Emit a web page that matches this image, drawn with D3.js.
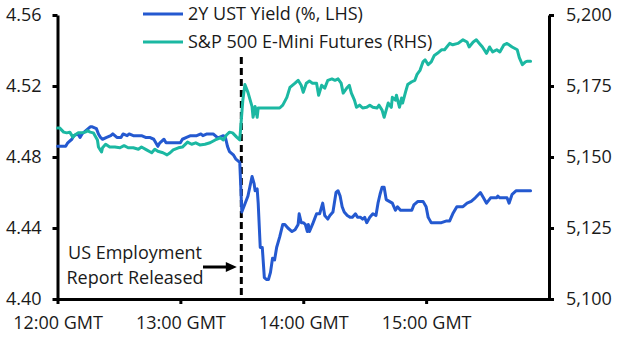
<!DOCTYPE html>
<html>
<head>
<meta charset="utf-8">
<script src="https://cdn.jsdelivr.net/npm/d3@7"></script>
<style>
  html, body { margin: 0; padding: 0; background: #fff; }
  svg { display: block; font-family: "Open Sans", sans-serif; }
</style>
</head>
<body>
<svg id="chart" width="622" height="350"></svg>
<script>
// Minutes after 12:00 GMT
const yieldMinutes = [0,4,5,7,8,10,11,12,14,15,16,17,19,20,21,22,24,26,27,29,31,32,34,35,37,39,41,43,45,47,48,49,50,52,53,55,57,60,61,63,65,67,68,70,71,73,74,76,78,79,81,82,83,84,86,87,88,89,
  90,93,95,96,96.5,97.5,98,99,100,101,102,103,104,105,106,107,108.5,110,111,112.5,114.5,116,117.5,118,119,120,121,122,122.5,123,124.5,125.5,126.5,128,129.5,130.5,132,133,134.5,136,137,138,139,140,141.5,143,144,145.5,146.5,148,149,150,151,152.5,154,155.5,156.5,157.5,158.5,159.5,160.5,162,163.5,165,166,167.5,168.5,170.5,173,174,176,178.5,180,181,181.5,182.5,185,187.5,190,191.5,193,195,198,200,202,204,206.5,208,209.5,211.5,214.5,215,216,219.5,220.5,222,224,227,231];
// 2Y UST yield, %
const yieldValues = [4.486,4.486,4.488,4.490,4.492,4.493,4.491,4.493,4.495,4.496,4.497,4.497,4.496,4.493,4.491,4.490,4.491,4.492,4.493,4.491,4.491,4.493,4.492,4.493,4.492,4.492,4.492,4.491,4.491,4.490,4.488,4.486,4.488,4.490,4.488,4.488,4.488,4.488,4.490,4.491,4.492,4.492,4.492,4.493,4.492,4.493,4.493,4.493,4.491,4.491,4.492,4.491,4.486,4.483,4.481,4.479,4.478,4.477,
  4.449,4.458,4.469,4.465,4.461,4.462,4.454,4.429,4.429,4.412,4.411,4.411,4.415,4.423,4.422,4.429,4.435,4.442,4.442,4.440,4.438,4.439,4.442,4.448,4.443,4.443,4.442,4.438,4.442,4.438,4.442,4.445,4.448,4.448,4.454,4.447,4.445,4.447,4.449,4.460,4.461,4.458,4.452,4.449,4.447,4.446,4.446,4.448,4.446,4.446,4.445,4.446,4.443,4.446,4.448,4.447,4.454,4.459,4.463,4.463,4.456,4.455,4.454,4.450,4.452,4.450,4.450,4.450,4.450,4.453,4.455,4.455,4.452,4.446,4.445,4.443,4.443,4.443,4.444,4.444,4.448,4.452,4.452,4.454,4.455,4.457,4.460,4.457,4.454,4.457,4.457,4.458,4.457,4.457,4.454,4.459,4.461,4.461,4.461];

// Minutes after 12:00 GMT
const futuresMinutes = [0,1,3,4.5,6,7.5,8.5,10,12,13.5,14.5,16,17.5,19.5,20,21.5,22,23.5,25.5,28,30.5,32.5,34.5,37,39.5,41,43.5,46,47.5,49,51.5,53.5,55,56.5,59,61,63.5,65.5,67.5,69.5,72,74.5,77,79.5,81,82.5,84,85.5,87.5,89,
  90.5,91.5,93,95,95.5,96.5,97.5,98,100,108.5,110,112,113.5,116,117.5,119,120,121.5,123,124.5,126.5,127.5,129,130.5,132,134,135.5,137,138.5,139.5,141.5,142.5,143.5,145,146,147.5,149,151,152.5,154,156,157,158.5,159.5,160.5,161.5,163,163.5,165,165.5,167,168,168.5,170,171,173,174.5,175.5,177,178.5,179.5,181,182.5,184,185.5,187.5,189,191.5,193,195.5,198,200,201,203,204.5,206,207.5,209.5,211,212.5,214.5,216,218,219.5,222,224.5,225.5,227,228.5,229.5,231];
// S&P 500 E-Mini futures, index points
const futuresValues = [5160.25,5160.25,5158.75,5158.5,5158.75,5157.0,5157.75,5158.5,5158.5,5158.75,5159.25,5158.75,5158.5,5156.0,5153.5,5151.75,5153.25,5154.5,5153.5,5153.5,5153.25,5154.0,5153.25,5153.25,5152.75,5153.5,5152.5,5151.5,5152.75,5152.0,5151.5,5150.75,5151.5,5152.5,5153.25,5153.5,5155.25,5154.5,5155.0,5154.25,5154.5,5155.0,5156.0,5156.75,5156.0,5157.75,5158.75,5158.5,5157.0,5156.0,
  5170.0,5175.5,5172.75,5167.75,5164.0,5167.75,5164.0,5167.25,5167.25,5167.25,5168.25,5171.0,5174.5,5176.0,5177.0,5175.25,5172.75,5176.0,5176.75,5176.0,5176.0,5171.75,5175.25,5174.25,5177.0,5177.5,5177.0,5177.5,5176.0,5172.5,5174.5,5175.25,5172.5,5170.0,5167.5,5168.25,5167.25,5167.5,5168.25,5167.5,5167.25,5168.25,5166.5,5164.0,5166.5,5169.0,5167.5,5171.0,5170.0,5171.75,5167.5,5170.75,5169.0,5173.0,5175.5,5176.5,5177.0,5179.0,5180.5,5183.5,5184.25,5182.5,5183.5,5185.75,5186.5,5187.75,5187.75,5190.0,5189.5,5190.0,5191.25,5190.5,5188.75,5190.5,5191.25,5190.0,5188.75,5186.5,5188.75,5187.0,5187.75,5187.0,5189.5,5190.0,5188.75,5187.75,5185.0,5182.5,5183.5,5183.75,5183.75];

const timeTicks = [0, 60, 120, 180];
const timeTickLabels = ["12:00 GMT", "13:00 GMT", "14:00 GMT", "15:00 GMT"];
const yieldTicks = [4.40, 4.44, 4.48, 4.52, 4.56];
const futuresTicks = [5100, 5125, 5150, 5175, 5200];
const releaseMinute = 90;
const seriesNames = ["2Y UST Yield (%, LHS)", "S&P 500 E-Mini Futures (RHS)"];
const seriesColors = ["#2459D0", "#1BB8A2"];
const noteLines = ["US Employment", "Report Released"];

const svg = d3.select("#chart");
const margin = { left: 57.5, right: 73, top: 15, bottom: 51 };
const W = 622, H = 350;

const x = d3.scaleLinear().domain([0, 240]).range([margin.left, W - margin.right]);
const yL = d3.scaleLinear().domain([4.40, 4.56]).range([H - margin.bottom, margin.top]);
const yR = d3.scaleLinear().domain([5100, 5200]).range([H - margin.bottom, margin.top]);

const fontSize = 18;

function styleAxis(g) {
  g.selectAll("path.domain").attr("stroke", "#000").attr("stroke-width", 3);
  g.selectAll(".tick line").attr("stroke", "#000").attr("stroke-width", 3);
  g.selectAll(".tick text").attr("fill", "#1a1a1a")
    .style("font-size", fontSize + "px").style("font-family", '"Open Sans", sans-serif');
}

// Axes
svg.append("g")
  .attr("transform", `translate(${margin.left},0)`)
  .call(d3.axisLeft(yL).tickValues(yieldTicks).tickFormat(d3.format(".2f"))
    .tickSize(5).tickSizeOuter(0).tickPadding(11))
  .call(styleAxis);

svg.append("g")
  .attr("transform", `translate(${W - margin.right},0)`)
  .call(d3.axisRight(yR).tickValues(futuresTicks).tickFormat(d3.format(","))
    .tickSize(5).tickSizeOuter(0).tickPadding(12))
  .call(styleAxis);

svg.append("g")
  .attr("transform", `translate(0,${H - margin.bottom})`)
  .call(d3.axisBottom(x).tickValues(timeTicks).tickFormat((d, i) => timeTickLabels[i])
    .tickSize(5).tickSizeOuter(0).tickPadding(12))
  .call(styleAxis);

// Release marker
const xr = x(releaseMinute);
svg.append("line")
  .attr("x1", xr - 0.5).attr("x2", xr - 0.5)
  .attr("y1", 57).attr("y2", H - margin.bottom)
  .attr("stroke", "#000").attr("stroke-width", 3)
  .attr("stroke-dasharray", "7,4");

// Series
const yieldData = yieldMinutes.map((m, i) => [m, yieldValues[i]]);
const futuresData = futuresMinutes.map((m, i) => [m, futuresValues[i]]);

svg.append("path")
  .datum(yieldData)
  .attr("fill", "none").attr("stroke", seriesColors[0]).attr("stroke-width", 3)
  .attr("stroke-linejoin", "round").attr("stroke-linecap", "round")
  .attr("d", d3.line().x(d => x(d[0])).y(d => yL(d[1])));

svg.append("path")
  .datum(futuresData)
  .attr("fill", "none").attr("stroke", seriesColors[1]).attr("stroke-width", 3)
  .attr("stroke-linejoin", "round").attr("stroke-linecap", "round")
  .attr("d", d3.line().x(d => x(d[0])).y(d => yR(d[1])));

// Legend
const legend = svg.append("g").attr("transform", "translate(143,14)");
seriesNames.forEach((name, i) => {
  const row = legend.append("g").attr("transform", `translate(0,${i * 28})`);
  row.append("line").attr("x1", 0).attr("x2", 40).attr("y1", 0).attr("y2", 0)
    .attr("stroke", seriesColors[i]).attr("stroke-width", 3);
  row.append("text").attr("x", 45).attr("y", 0).attr("dy", "0.35em")
    .attr("fill", "#1a1a1a").style("font-size", fontSize + "px").text(name);
});

// Annotation
const note = svg.append("g");
noteLines.forEach((t, i) => {
  note.append("text")
    .attr("x", 135).attr("y", 253 + i * 25).attr("dy", "0.35em")
    .attr("text-anchor", "middle").attr("fill", "#1a1a1a")
    .style("font-size", fontSize + "px").text(t);
});
const ay = 267;
note.append("line").attr("x1", 203).attr("x2", xr - 14).attr("y1", ay).attr("y2", ay)
  .attr("stroke", "#000").attr("stroke-width", 3);
note.append("path")
  .attr("d", `M${xr - 5},${ay} L${xr - 16},${ay - 5} L${xr - 16},${ay + 5} Z`)
  .attr("fill", "#000");
</script>
</body>
</html>
